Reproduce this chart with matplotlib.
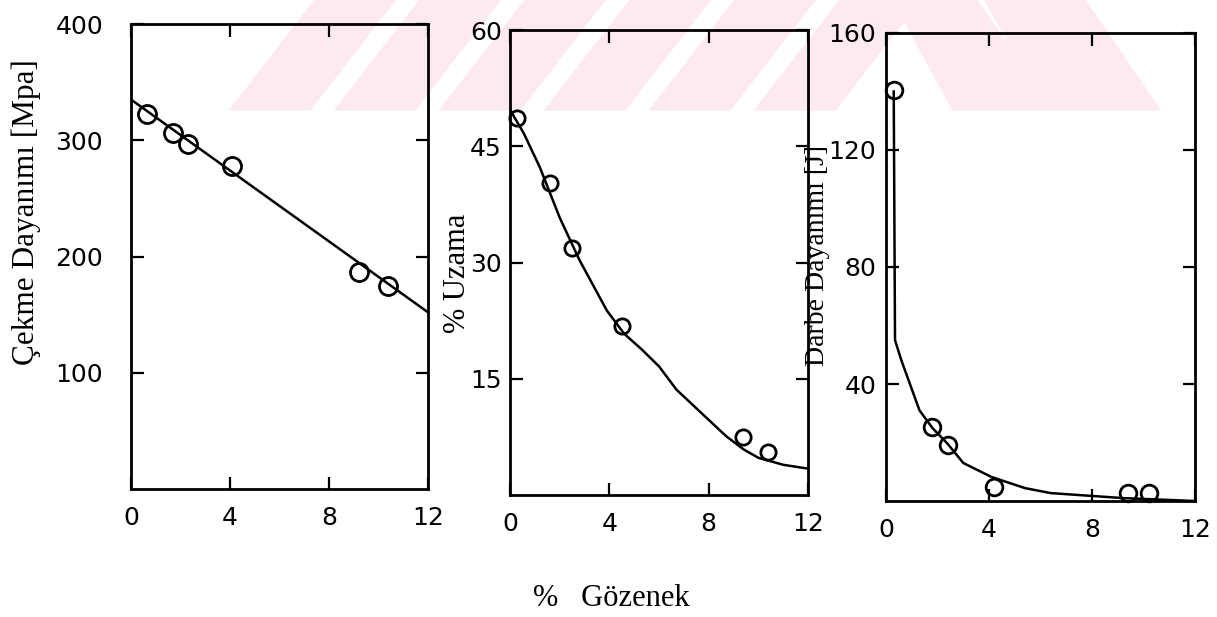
import matplotlib.pyplot as plt
from matplotlib.patches import Polygon

# % Gözenek (porosity) values
x_cekme = [0.65, 1.7, 2.3, 4.1, 9.2, 10.4]
y_cekme = [323, 306, 297, 278, 187, 175]
fit_cekme_x = [0, 12]
fit_cekme_y = [335, 152]

x_uzama = [0.3, 1.6, 2.5, 4.5, 9.4, 10.4]
y_uzama = [48.6, 40.3, 31.9, 21.8, 7.5, 5.5]
fit_uzama_x = [0, 0.55, 1.2, 2.0, 2.8, 3.9, 4.6, 5.3, 6.0, 6.7, 7.6, 8.7, 9.4, 10.0, 11.0, 12.0]
fit_uzama_y = [49.7, 46.7, 42.3, 35.8, 30.3, 23.8, 20.8, 18.8, 16.6, 13.6, 10.9, 7.6, 5.9, 4.8, 3.9, 3.4]

x_darbe = [0.3, 1.8, 2.4, 4.2, 9.4, 10.2]
y_darbe = [140.5, 25.3, 19.0, 4.8, 2.7, 2.7]
fit_darbe_x = [0.3, 0.35, 0.6, 1.3, 1.8, 2.4, 3.0, 4.1, 5.4, 6.4, 9.2, 12.0]
fit_darbe_y = [140, 55, 48, 31, 25, 19.5, 13, 8.2, 4.4, 2.7, 1.0, 0.0]

xticks = [0, 4, 8, 12]

W, H = 1217, 617
fig = plt.figure(figsize=(W / 100, H / 100), dpi=100)

# faint watermark stripes at the top of the scan
pink = '#fdeaee'
for xb in [230, 335, 440, 545, 650, 755]:
    fig.add_artist(Polygon([(xb / W, 1 - 110 / H), ((xb + 80) / W, 1 - 110 / H),
                            ((xb + 165) / W, 1.0), ((xb + 85) / W, 1.0)],
                           closed=True, transform=fig.transFigure, color=pink, zorder=0))
for xt, w in [(893, 84), (985, 100)]:
    fig.add_artist(Polygon([(xt / W, 1.0), ((xt + w) / W, 1.0),
                            ((xt + w + 75) / W, 1 - 110 / H), ((xt + 60) / W, 1 - 110 / H)],
                           closed=True, transform=fig.transFigure, color=pink, zorder=0))


def px_axes(l, r, t, b):
    return fig.add_axes([l / W, 1 - b / H, (r - l) / W, (b - t) / H])


panels = [
    (px_axes(131, 428, 24, 489), x_cekme, y_cekme, fit_cekme_x, fit_cekme_y,
     400, [100, 200, 300, 400], 20, 13),
    (px_axes(510, 808, 30, 495), x_uzama, y_uzama, fit_uzama_x, fit_uzama_y,
     60, [15, 30, 45, 60], 6, 11),
    (px_axes(886, 1195, 33, 501), x_darbe, y_darbe, fit_darbe_x, fit_darbe_y,
     160, [40, 80, 120, 160], 7, 12),
]

for ax, xs, ys, fx, fy, ymax, yt, ypad, ms in panels:
    ax.patch.set_alpha(0)
    ax.plot(fx, fy, color='black', lw=1.8, zorder=2)
    ax.plot(xs, ys, 'o', mfc='none', mec='black', mew=2, ms=ms, zorder=3,
            clip_on=False)
    ax.set_xlim(0, 12)
    ax.set_ylim(0, ymax)
    ax.set_xticks(xticks)
    ax.set_yticks(yt)
    for s in ax.spines.values():
        s.set_linewidth(2)
    ax.tick_params(direction='in', top=True, right=True, length=9, width=1.6,
                   labelsize=18, colors='black')
    ax.tick_params(axis='y', pad=ypad)
    ax.tick_params(axis='x', pad=12)

serif = 'Liberation Serif'
fig.text(26 / W, 1 - 212 / H, 'Çekme Dayanımı [Mpa]', rotation=90, ha='center',
         va='center', fontsize=22.5, family=serif)
fig.text(458 / W, 1 - 273 / H, '% Uzama', rotation=90, ha='center',
         va='center', fontsize=22, family=serif)
fig.text(818 / W, 1 - 255 / H, 'Darbe Dayanımı [J]', rotation=90, ha='center',
         va='center', fontsize=20, family=serif)
fig.text(611 / W, 1 - 598 / H, '%   Gözenek', ha='center', va='center',
         fontsize=22, family=serif)

fig.savefig('out.png', dpi=100)
